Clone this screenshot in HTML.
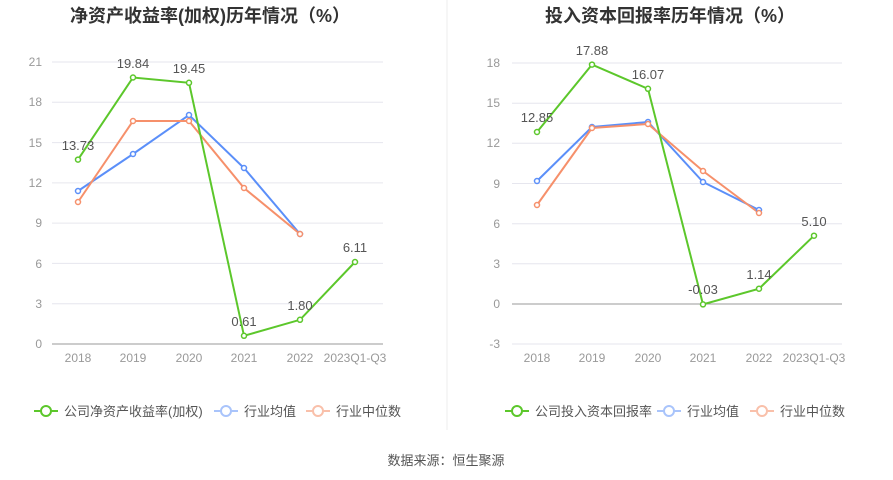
<!DOCTYPE html>
<html><head><meta charset="utf-8"><style>
body{margin:0;background:#fff;}
svg{display:block;font-family:"Liberation Sans","Noto Sans CJK SC",sans-serif;}
</style></head><body>
<svg width="893" height="480" viewBox="0 0 893 480">
<line x1="447" y1="0" x2="447" y2="430" stroke="#eee"/>
<text x="210" y="22" text-anchor="middle" font-size="18" font-weight="bold" fill="#333">净资产收益率(加权)历年情况（%）</text>
<text x="670" y="22" text-anchor="middle" font-size="18" font-weight="bold" fill="#333">投入资本回报率历年情况（%）</text>
<g font-size="12" fill="#999" text-anchor="end">
<g stroke="#e6e6ee">
<line x1="52" x2="383" y1="62" y2="62"/><line x1="52" x2="383" y1="102.3" y2="102.3"/><line x1="52" x2="383" y1="142.6" y2="142.6"/><line x1="52" x2="383" y1="182.9" y2="182.9"/><line x1="52" x2="383" y1="223.1" y2="223.1"/><line x1="52" x2="383" y1="263.4" y2="263.4"/><line x1="52" x2="383" y1="303.7" y2="303.7"/>
<line x1="512" x2="842" y1="63" y2="63"/><line x1="512" x2="842" y1="103.2" y2="103.2"/><line x1="512" x2="842" y1="143.3" y2="143.3"/><line x1="512" x2="842" y1="183.5" y2="183.5"/><line x1="512" x2="842" y1="223.7" y2="223.7"/><line x1="512" x2="842" y1="263.8" y2="263.8"/><line x1="512" x2="842" y1="344" y2="344"/>
</g>
<line x1="52" x2="383" y1="344" y2="344" stroke="#999"/>
<line x1="512" x2="842" y1="304" y2="304" stroke="#999"/>
<text x="42" y="66">21</text><text x="42" y="106">18</text><text x="42" y="147">15</text><text x="42" y="187">12</text><text x="42" y="227">9</text><text x="42" y="268">6</text><text x="42" y="308">3</text><text x="42" y="348">0</text>
<text x="500" y="67">18</text><text x="500" y="107">15</text><text x="500" y="147">12</text><text x="500" y="188">9</text><text x="500" y="228">6</text><text x="500" y="268">3</text><text x="500" y="308">0</text><text x="500" y="348">-3</text>
</g>
<g font-size="12" fill="#999" text-anchor="middle">
<text x="78" y="362">2018</text><text x="133" y="362">2019</text><text x="189" y="362">2020</text><text x="244" y="362">2021</text><text x="300" y="362">2022</text><text x="355" y="362">2023Q1-Q3</text>
<text x="537" y="362">2018</text><text x="592" y="362">2019</text><text x="648" y="362">2020</text><text x="703" y="362">2021</text><text x="759" y="362">2022</text><text x="814" y="362">2023Q1-Q3</text>
</g>
<g fill="#fff" stroke-width="2">
<polyline fill="none" stroke="#5b8ff9" points="78,191 133,154 189,115 244,168 300,234"/>
<polyline fill="none" stroke="#f6906b" points="78,202 133,121 189,121 244,188 300,234"/>
<polyline fill="none" stroke="#5cc72b" points="78,159.6 133,77.5 189,82.8 244,335.8 300,319.8 355,262"/>
<polyline fill="none" stroke="#5b8ff9" points="537,181 592,127 648,122 703,182 759,210"/>
<polyline fill="none" stroke="#f6906b" points="537,205 592,128 648,124 703,171 759,213"/>
<polyline fill="none" stroke="#5cc72b" points="537,132 592,64.6 648,88.8 703,304.4 759,288.7 814,235.7"/>
<g stroke-width="1.5">
<g stroke="#5b8ff9"><circle cx="78" cy="191" r="2.5"/><circle cx="133" cy="154" r="2.5"/><circle cx="189" cy="115" r="2.5"/><circle cx="244" cy="168" r="2.5"/><circle cx="300" cy="234" r="2.5"/><circle cx="537" cy="181" r="2.5"/><circle cx="592" cy="127" r="2.5"/><circle cx="648" cy="122" r="2.5"/><circle cx="703" cy="182" r="2.5"/><circle cx="759" cy="210" r="2.5"/></g>
<g stroke="#f6906b"><circle cx="78" cy="202" r="2.5"/><circle cx="133" cy="121" r="2.5"/><circle cx="189" cy="121" r="2.5"/><circle cx="244" cy="188" r="2.5"/><circle cx="300" cy="234" r="2.5"/><circle cx="537" cy="205" r="2.5"/><circle cx="592" cy="128" r="2.5"/><circle cx="648" cy="124" r="2.5"/><circle cx="703" cy="171" r="2.5"/><circle cx="759" cy="213" r="2.5"/></g>
<g stroke="#5cc72b"><circle cx="78" cy="159.6" r="2.5"/><circle cx="133" cy="77.5" r="2.5"/><circle cx="189" cy="82.8" r="2.5"/><circle cx="244" cy="335.8" r="2.5"/><circle cx="300" cy="319.8" r="2.5"/><circle cx="355" cy="262" r="2.5"/><circle cx="537" cy="132" r="2.5"/><circle cx="592" cy="64.6" r="2.5"/><circle cx="648" cy="88.8" r="2.5"/><circle cx="703" cy="304.4" r="2.5"/><circle cx="759" cy="288.7" r="2.5"/><circle cx="814" cy="235.7" r="2.5"/></g>
</g></g>
<g font-size="13" fill="#555" text-anchor="middle">
<text x="78" y="150">13.73</text><text x="133" y="68">19.84</text><text x="189" y="73">19.45</text><text x="244" y="326">0.61</text><text x="300" y="310">1.80</text><text x="355" y="252">6.11</text>
<text x="537" y="122">12.85</text><text x="592" y="55">17.88</text><text x="648" y="79">16.07</text><text x="703" y="294">-0.03</text><text x="759" y="279">1.14</text><text x="814" y="226">5.10</text>
</g>
<g font-size="13" fill="#555">
<line x1="34" x2="58" y1="411" y2="411" stroke="#5cc72b" stroke-width="2"/><circle cx="46" cy="411" r="5" fill="#fff" stroke="#5cc72b" stroke-width="2"/><text x="64" y="416">公司净资产收益率(加权)</text>
<line x1="214" x2="238" y1="411" y2="411" stroke="#a9c4fb" stroke-width="2"/><circle cx="226" cy="411" r="5" fill="#fff" stroke="#a9c4fb" stroke-width="2"/><text x="244" y="416">行业均值</text>
<line x1="306" x2="330" y1="411" y2="411" stroke="#f9c0aa" stroke-width="2"/><circle cx="318" cy="411" r="5" fill="#fff" stroke="#f9c0aa" stroke-width="2"/><text x="336" y="416">行业中位数</text>
<line x1="505" x2="529" y1="411" y2="411" stroke="#5cc72b" stroke-width="2"/><circle cx="517" cy="411" r="5" fill="#fff" stroke="#5cc72b" stroke-width="2"/><text x="535" y="416">公司投入资本回报率</text>
<line x1="657" x2="681" y1="411" y2="411" stroke="#a9c4fb" stroke-width="2"/><circle cx="669" cy="411" r="5" fill="#fff" stroke="#a9c4fb" stroke-width="2"/><text x="687" y="416">行业均值</text>
<line x1="750" x2="774" y1="411" y2="411" stroke="#f9c0aa" stroke-width="2"/><circle cx="762" cy="411" r="5" fill="#fff" stroke="#f9c0aa" stroke-width="2"/><text x="780" y="416">行业中位数</text>
</g>
<text x="446" y="465" text-anchor="middle" font-size="13" fill="#555">数据来源：恒生聚源</text>
</svg>
</body></html>
